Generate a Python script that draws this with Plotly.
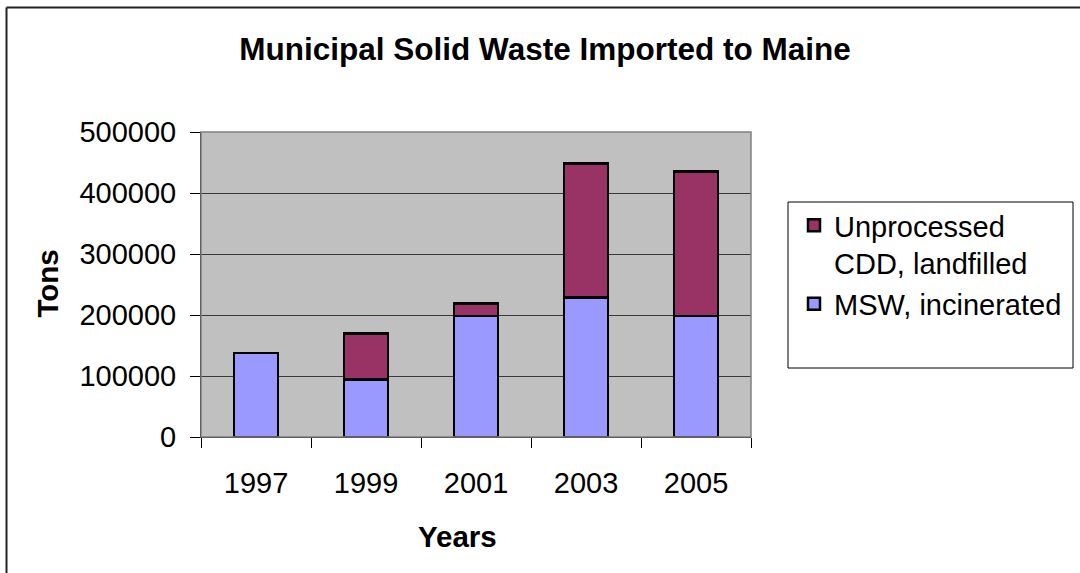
import plotly.graph_objects as go

years = ["1997", "1999", "2001", "2003", "2005"]
msw_incinerated = [137500, 94000, 198500, 228500, 198500]
cdd_landfilled = [0, 76000, 20500, 219500, 236500]
y_ticks = [0, 100000, 200000, 300000, 400000, 500000]

W, H = 1080, 573
L, R, T, B = 201, 751, 132, 437
PW, PH = R - L, B - T

def px(x):
    return (x - L) / PW

def py(y):
    return (B - y) / PH

FONT = "Liberation Sans, Arial, sans-serif"

fig = go.Figure()
fig.add_trace(go.Bar(
    x=years, y=msw_incinerated, name="MSW, incinerated",
    marker=dict(color="#9999FF", line=dict(color="black", width=2.5)),
    width=0.4,
))
fig.add_trace(go.Bar(
    x=years, y=cdd_landfilled, name="Unprocessed<br>CDD, landfilled",
    marker=dict(color="#993366", line=dict(color="black", width=2.5)),
    width=0.4,
))

fig.update_layout(
    width=W, height=H,
    barmode="stack",
    paper_bgcolor="white",
    plot_bgcolor="#C0C0C0",
    margin=dict(l=L, r=W - R, t=T, b=H - B, autoexpand=False),
    font=dict(family=FONT, size=29, color="black"),
    title=dict(
        text="<b>Municipal Solid Waste Imported to Maine</b>",
        font=dict(size=31.5, family=FONT, color="black"),
        x=545 / W, xref="container", xanchor="center",
        y=1 - 49 / H, yref="container", yanchor="middle",
    ),
    showlegend=True,
    legend=dict(
        traceorder="reversed",
        x=px(794), y=py(200), xanchor="left", yanchor="top",
        xref="paper", yref="paper",
        bgcolor="rgba(0,0,0,0)", borderwidth=0,
        font=dict(size=29, family=FONT, color="black"),
        tracegroupgap=0,
        itemwidth=30,
        valign="top",
    ),
    hovermode=False,
)

fig.update_xaxes(
    type="category",
    showline=True, linecolor="black", linewidth=1,
    ticks="outside", tickson="boundaries", ticklen=10, tickcolor="black",
    showgrid=False,
    tickfont=dict(size=29, family=FONT),
    ticklabelstandoff=20,
)
fig.update_yaxes(
    range=[0, 500000],
    tickvals=y_ticks,
    ticktext=[str(v) for v in y_ticks],
    showline=True, linecolor="black", linewidth=1,
    ticks="outside", ticklen=10, tickcolor="black",
    showgrid=True, gridcolor="#3a3a3a", gridwidth=1,
    zeroline=False,
    tickfont=dict(size=29, family=FONT),
    ticklabelstandoff=8,
)

# plot area border (top/right gray)
fig.add_shape(type="rect", xref="paper", yref="paper", x0=0, y0=0, x1=1, y1=1,
              line=dict(color="#808080", width=1.5), fillcolor="rgba(0,0,0,0)", layer="above")
# legend box
fig.add_shape(type="rect", xref="paper", yref="paper",
              x0=px(788), y0=py(368), x1=px(1073), y1=py(202),
              line=dict(color="black", width=1), fillcolor="white", layer="below")
# outer chart border (left and top visible)
fig.add_shape(type="line", xref="paper", yref="paper",
              x0=px(6.5), y0=py(7.5), x1=px(6.5), y1=py(600),
              line=dict(color="#222222", width=2))
fig.add_shape(type="line", xref="paper", yref="paper",
              x0=px(6.5), y0=py(7.5), x1=px(1100), y1=py(7.5),
              line=dict(color="#222222", width=2))

fig.add_annotation(text="<b>Tons</b>", xref="paper", yref="paper",
                   x=px(46.5), y=py(284), textangle=-90, showarrow=False,
                   font=dict(size=29.5, family=FONT), xanchor="center", yanchor="middle")
fig.add_annotation(text="<b>Years</b>", xref="paper", yref="paper",
                   x=px(457.5), y=py(536), showarrow=False,
                   font=dict(size=29.5, family=FONT), xanchor="center", yanchor="middle")

fig.write_html("out.html", config={"displayModeBar": False},
               post_script="document.body.style.margin='0';")
